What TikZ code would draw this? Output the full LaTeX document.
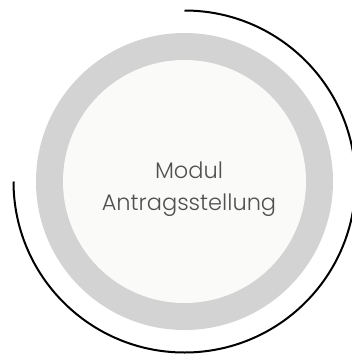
\documentclass[tikz,border=0pt]{standalone}
\usepackage{fontspec}
\setmainfont{Poppins Light}
\definecolor{ringgray}{HTML}{D3D3D3}
\definecolor{innerwhite}{HTML}{FAFBF9}
\definecolor{textgray}{HTML}{505050}
\begin{document}
\begin{tikzpicture}[x=1pt,y=-1pt,
  ringstyle/.style={circle,fill=ringgray,minimum size=297pt,inner sep=0pt},
  innerstyle/.style={circle,fill=innerwhite,minimum size=243pt,inner sep=0pt},
  labelstyle/.style={text=textgray,align=center,font=\fontsize{22.5}{32}\selectfont}]
\useasboundingbox (0,0) rectangle (352,354);
\node[ringstyle] (ring) at (184.5,181.5) {};
\node[innerstyle] (inner) at (184.5,181.5) {};
\node[labelstyle] (label) at (189,189) {Modul\\Antragsstellung};
\coordinate (c) at (184.5,181.5);
\coordinate (arcstart) at (184.5,10.5);
\draw[line width=2pt] (arcstart) arc[start angle=-90,end angle=180,radius=171];
\end{tikzpicture}
\end{document}
